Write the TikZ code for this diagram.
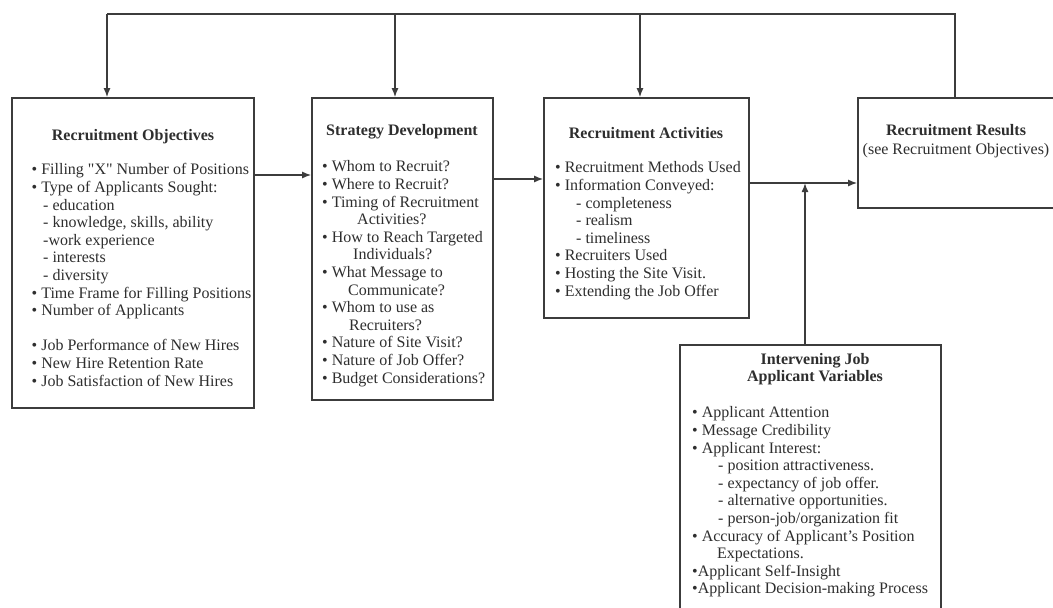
\documentclass[tikz,border=0pt]{standalone}
\usepackage{fontspec}
\setmainfont{Liberation Serif}
\usetikzlibrary{arrows.meta}
\definecolor{ink}{HTML}{2E2E2E}
\definecolor{edge}{HTML}{3C3C3C}
\newcommand{\sq}{\XeTeXglyph\XeTeXcharglyph"22\relax}
\tikzset{
  box/.style={draw=edge, line width=1.6pt, fill=white, inner sep=0pt},
  conn/.style={draw=edge, line width=1.5pt},
  arr/.style={conn, -{Latex[length=9pt,width=7pt]}},
  txt/.style={anchor=north west, inner sep=0pt, align=left, text=ink,
    font=\fontsize{16}{17.6}\selectfont},
  ttl/.style={inner sep=0pt, align=center, text=ink,
    font=\fontsize{16}{17.5}\selectfont\bfseries},
}
\begin{document}
\begin{tikzpicture}[x=1pt,y=-1pt]
\useasboundingbox (0,0) rectangle (1053,608);
\clip (0,0) rectangle (1053,608);
% boxes
\node[box, minimum width=242pt, minimum height=310pt] (obj) at (133,253) {};
\node[box, minimum width=181pt, minimum height=302pt] (strat) at (402.5,249) {};
\node[box, minimum width=205pt, minimum height=220pt] (act) at (646.5,208) {};
\node[box, minimum width=202pt, minimum height=110pt] (res) at (959,153) {};
\node[box, minimum width=261pt, minimum height=280pt] (iv) at (810.5,485) {};
% titles
\node[ttl] (objT) at (133,137) {Recruitment Objectives};
\node[ttl] (stratT) at (402,132) {Strategy Development};
\node[ttl] (actT) at (646,133) {Recruitment Activities};
\node[ttl, anchor=north] (resT) at (956,124) {Recruitment Results\\[1.5pt]\mdseries (see Recruitment Objectives)};
\node[ttl, anchor=north] (ivT) at (815,353) {Intervening Job\\Applicant Variables};
% texts
\node[txt] (objL) at (31.5,162.3) {\strut• Filling \sq X\sq{} Number of Positions\\
• Type of Applicants Sought:\\
\hspace*{11.5pt}- education\\
\hspace*{11.5pt}- knowledge, skills, ability\\
\hspace*{11.5pt}-work experience\\
\hspace*{11.5pt}- interests\\
\hspace*{11.5pt}- diversity\\
• Time Frame for Filling Positions\\
• Number of Applicants\\[17.6pt]
• Job Performance of New Hires\\
• New Hire Retention Rate\\
• Job Satisfaction of New Hires};
\node[txt] (stratL) at (322,159.3) {\strut• Whom to Recruit?\\
• Where to Recruit?\\
• Timing of Recruitment\\
\hspace*{35pt}Activities?\\
• How to Reach Targeted\\
\hspace*{31pt}Individuals?\\
• What Message to\\
\hspace*{26pt}Communicate?\\
• Whom to use as\\
\hspace*{27pt}Recruiters?\\
• Nature of Site Visit?\\
• Nature of Job Offer?\\
• Budget Considerations?};
\node[txt] (actL) at (555,160.3) {\strut• Recruitment Methods Used\\
• Information Conveyed:\\
\hspace*{21pt}- completeness\\
\hspace*{21pt}- realism\\
\hspace*{21pt}- timeliness\\
• Recruiters Used\\
• Hosting the Site Visit.\\
• Extending the Job Offer};
\node[txt] (ivL) at (692,405.3) {\strut• Applicant Attention\\
• Message Credibility\\
• Applicant Interest:\\
\hspace*{26pt}- position attractiveness.\\
\hspace*{26pt}- expectancy of job offer.\\
\hspace*{26pt}- alternative opportunities.\\
\hspace*{26pt}- person-job/organization fit\\
• Accuracy of Applicant's Position\\
\hspace*{25pt}Expectations.\\
•Applicant Self-Insight\\
•Applicant Decision-making Process};
% connectors
\coordinate (tL) at (107,14);
\coordinate (tS) at (395,14);
\coordinate (tA) at (640,14);
\coordinate (tR) at (955,14);
\coordinate (y1) at (0,175);
\coordinate (y2) at (0,179);
\coordinate (y3) at (0,183);
\coordinate (vx) at (805,0);
\draw[conn] (tR |- res.north) -- (tR) -- (tL);
\draw[arr] (tL) -- (tL |- obj.north);
\draw[arr] (tS) -- (tS |- strat.north);
\draw[arr] (tA) -- (tA |- act.north);
\draw[arr] (obj.east |- y1) -- (strat.west |- y1);
\draw[arr] (strat.east |- y2) -- (act.west |- y2);
\draw[arr] (act.east |- y3) -- (res.west |- y3);
\draw[arr] (vx |- iv.north) -- (vx |- y3);
\end{tikzpicture}
\end{document}
